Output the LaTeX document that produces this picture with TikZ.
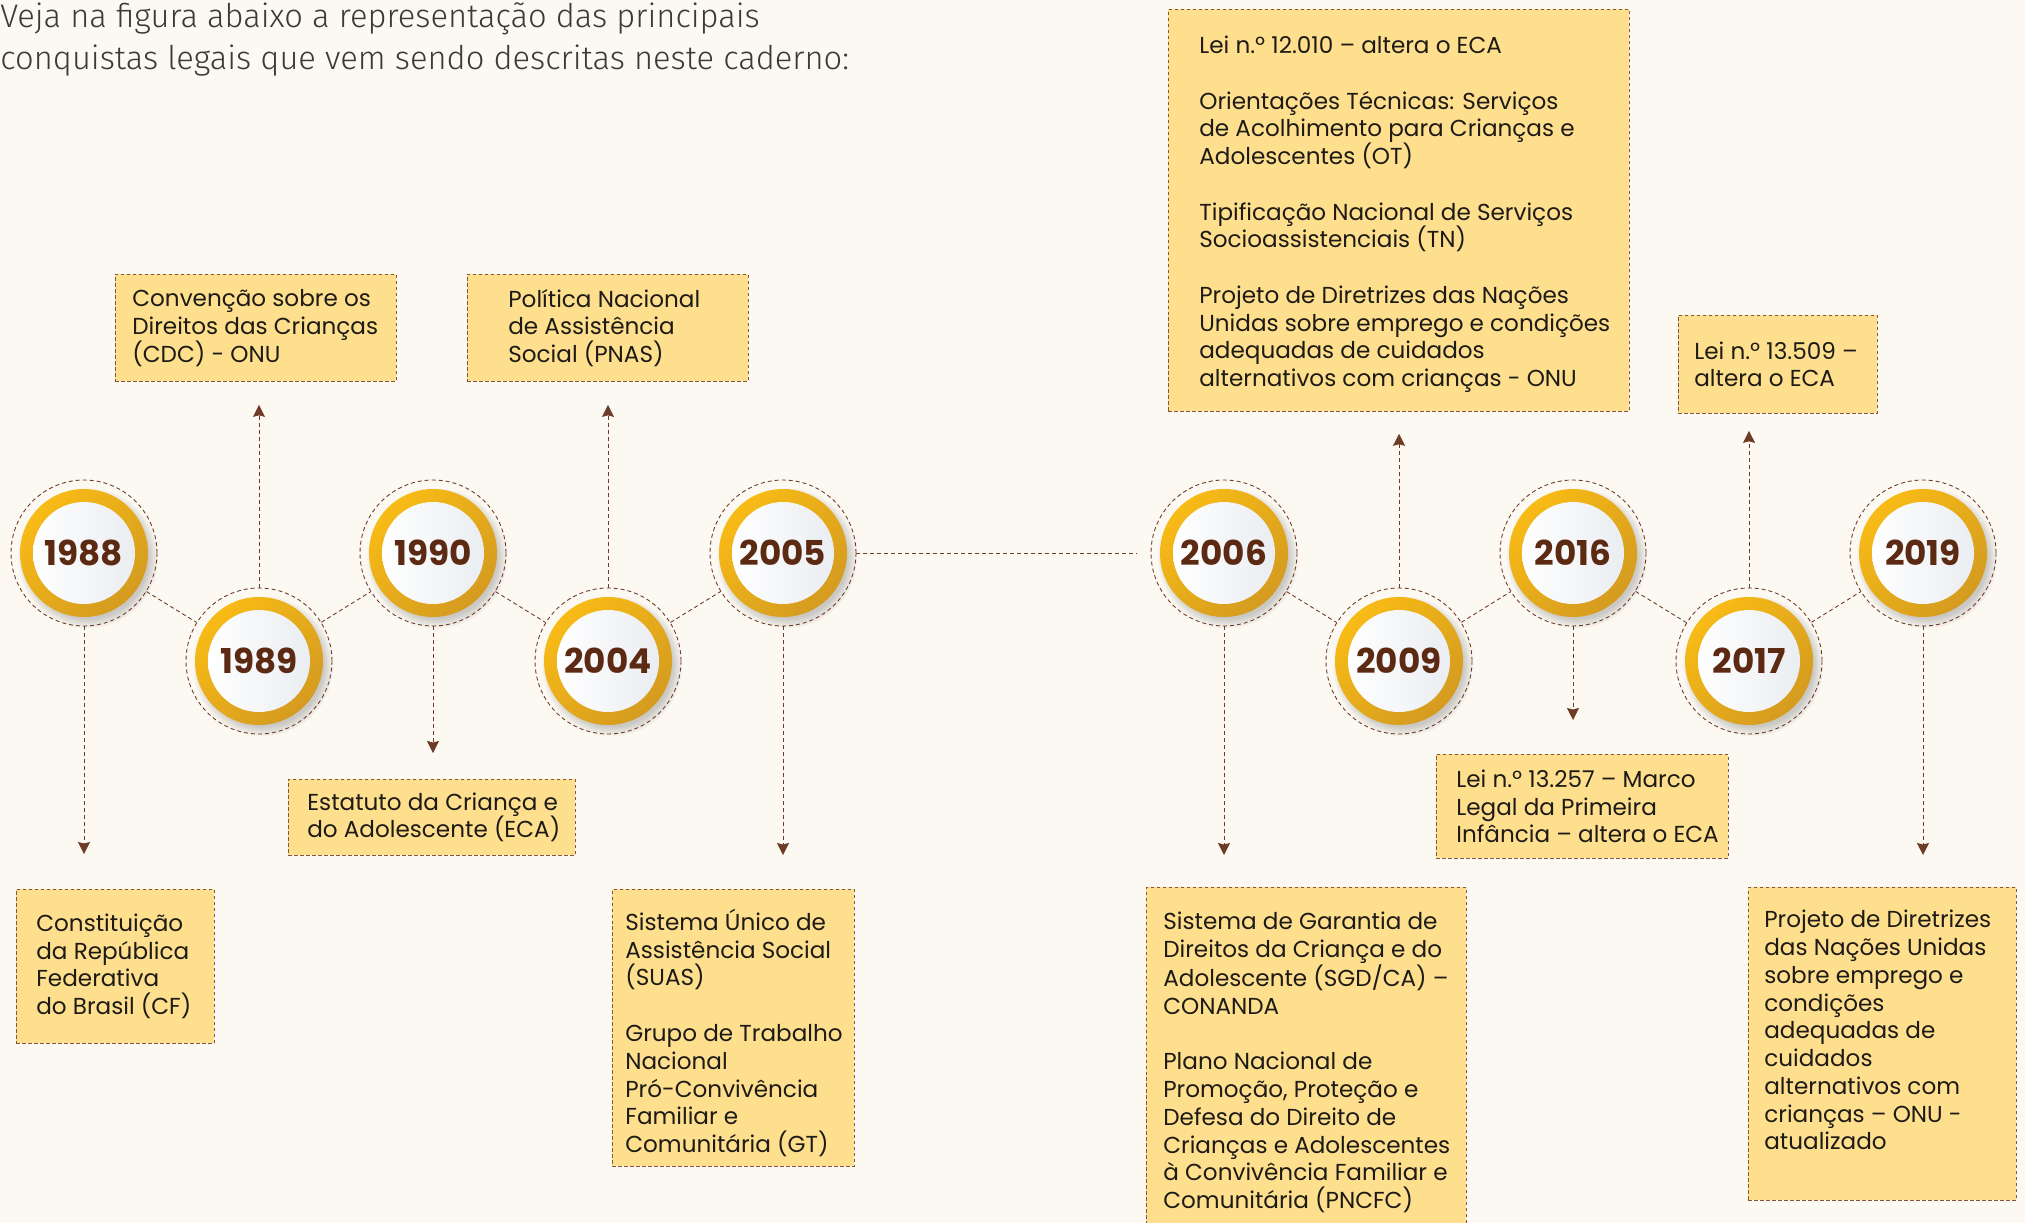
\documentclass[tikz,border=0pt]{standalone}
\usepackage{fontspec}
\setmainfont{Poppins}
\newfontfamily\headfont{Fira Sans Light}
\usetikzlibrary{arrows.meta}
\usetikzlibrary{shadows}

\definecolor{bgcream}{HTML}{FCF9F2}
\definecolor{notefill}{HTML}{FDDF8E}
\definecolor{notedraw}{HTML}{85563F}
\definecolor{linebrown}{HTML}{6E3B27}
\definecolor{yearbrown}{HTML}{5C2912}
\definecolor{ringlight}{HTML}{F8BB16}
\definecolor{ringdark}{HTML}{D49B20}
\definecolor{coredark}{HTML}{EAEDF1}
\definecolor{headgray}{HTML}{3A3A3A}
\definecolor{inktext}{HTML}{1E1A16}

\newcommand{\notefont}{\fontsize{13.15}{15.8}\selectfont}
\newcommand{\yearfont}{\bfseries\fontsize{19.5}{21}\selectfont}

% yellow ring, white core and the dashed outline that carries the name
\newcommand{\yearball}[4]{%
  \shade[ring] (#2,#3) circle (64);
  \shade[core] (#2,#3) circle (51);
  \node[yearring] (#1) at (#2,#3) {#4};
}

\begin{document}
\begin{tikzpicture}[x=0.02cm, y=-0.02cm,
    ring/.style={top color=ringlight, bottom color=ringdark, shading angle=45,
      circular drop shadow={shadow xshift=0.07cm, shadow yshift=-0.09cm, opacity=0.4}},
    core/.style={left color=white, right color=coredark},
    yearring/.style={circle, minimum size=2.92cm, inner sep=0, draw=linebrown, line width=0.5pt,
      dash pattern=on 0.08cm off 0.06cm, font=\yearfont, text=yearbrown},
    link/.style={draw=linebrown, line width=0.5pt, dash pattern=on 0.08cm off 0.06cm},
    arr/.style={link, -{Stealth[length=0.24cm, width=0.24cm, inset=0.03cm]}},
    note/.style={draw=notedraw, fill=notefill, line width=0.5pt, dash pattern=on 0.07cm off 0.05cm,
      anchor=north west, inner sep=0},
    notetext/.style={anchor=west, align=left, inner sep=0, font=\notefont, text=inktext}]

\useasboundingbox (0,0) rectangle (2025,1223);
\fill[bgcream] (0,0) rectangle (2025,1223);

\node[anchor=north west, inner sep=0, align=left, text=headgray,
  font={\headfont\fontsize{18.6}{24.2}\selectfont}] (intro) at (0,2)
  {Veja na figura abaixo a representação das principais\\conquistas legais que vem sendo descritas neste caderno:};

% years
\yearball{y1988}{84}{553}{1988}
\yearball{y1989}{259}{661}{1989}
\yearball{y1990}{433}{553}{1990}
\yearball{y2004}{608}{661}{2004}
\yearball{y2005}{783}{553}{2005}
\yearball{y2006}{1224}{553}{2006}
\yearball{y2009}{1399}{661}{2009}
\yearball{y2016}{1573}{553}{2016}
\yearball{y2017}{1749}{661}{2017}
\yearball{y2019}{1923}{553}{2019}

% notes
\node[note, minimum width=3.96cm, minimum height=3.08cm] (cf) at (16,889) {};
\node[notetext] (cftxt) at ([xshift=0.4cm]cf.west)
  {Constituição\\da República\\Federativa\\do Brasil (CF)};

\node[note, minimum width=5.62cm, minimum height=2.14cm] (cdc) at (115,274) {};
\node[notetext] (cdctxt) at ([xshift=0.34cm]cdc.west)
  {Convenção sobre os\\Direitos das Crianças\\(CDC) - ONU};

\node[note, minimum width=5.74cm, minimum height=1.52cm] (eca) at (288,779) {};
\node[notetext] (ecatxt) at ([xshift=0.38cm]eca.west)
  {Estatuto da Criança e\\do Adolescente (ECA)};

\node[note, minimum width=5.62cm, minimum height=2.14cm] (pnas) at (467,274) {};
\node[notetext] (pnastxt) at ([xshift=0.82cm]pnas.west)
  {Política Nacional\\de Assistência\\Social (PNAS)};

\node[note, minimum width=4.84cm, minimum height=5.54cm] (suas) at (612,889) {};
\node[notetext] (suastxt) at ([xshift=0.26cm, yshift=-0.1cm]suas.west)
  {Sistema Único de\\Assistência Social\\(SUAS)\\[15.8pt]Grupo de Trabalho\\Nacional\\Pró-Convivência\\Familiar e\\Comunitária (GT)};

\node[note, minimum width=6.4cm, minimum height=7.16cm] (sgd) at (1146,887) {};
\node[notetext] (sgdtxt) at ([xshift=0.34cm, yshift=0.08cm]sgd.west)
  {Sistema de Garantia de\\Direitos da Criança e do\\Adolescente (SGD/CA) –\\CONANDA\\[15.8pt]Plano Nacional de\\Promoção, Proteção e\\Defesa do Direito de\\Crianças e Adolescentes\\à Convivência Familiar e\\Comunitária (PNCFC)};

\node[note, minimum width=9.22cm, minimum height=8.04cm] (ot) at (1168,9) {};
\node[notetext] (ottxt) at ([xshift=0.62cm, yshift=-0.08cm]ot.west)
  {Lei n.º 12.010 – altera o ECA\\[15.8pt]Orientações Técnicas: Serviços\\de Acolhimento para Crianças e\\Adolescentes (OT)\\[15.8pt]Tipificação Nacional de Serviços\\Socioassistenciais (TN)\\[15.8pt]Projeto de Diretrizes das Nações\\Unidas sobre emprego e condições\\adequadas de cuidados\\alternativos com crianças - ONU};

\node[note, minimum width=5.84cm, minimum height=2.08cm] (marco) at (1436,754) {};
\node[notetext] (marcotxt) at ([xshift=0.4cm]marco.west)
  {Lei n.º 13.257 – Marco\\Legal da Primeira\\Infância – altera o ECA};

\node[note, minimum width=3.98cm, minimum height=1.96cm] (lei13509) at (1678,315) {};
\node[notetext] (lei13509txt) at ([xshift=0.32cm]lei13509.west)
  {Lei n.º 13.509 –\\altera o ECA};

\node[note, minimum width=5.36cm, minimum height=6.26cm] (onu) at (1748,887) {};
\node[notetext] (onutxt) at ([xshift=0.32cm]onu.west)
  {Projeto de Diretrizes\\das Nações Unidas\\sobre emprego e\\condições\\adequadas de\\cuidados\\alternativos com\\crianças – ONU -\\atualizado\\ \mbox{}};

% timeline
\foreach \a/\b in {y1988/y1989, y1989/y1990, y1990/y2004, y2004/y2005,
                   y2006/y2009, y2009/y2016, y2016/y2017, y2017/y2019}
  \draw[link] (\a) -- (\b);
\draw[link, shorten >=0.27cm] (y2005) -- (y2006);

% arrows to the notes
\draw[arr, shorten >=0.7cm] (y1988) -- (y1988 |- cf.north);
\draw[arr, shorten >=0.46cm] (y1989) -- (y1989 |- cdc.south);
\draw[arr, shorten >=0.52cm] (y1990) -- (y1990 |- eca.north);
\draw[arr, shorten >=0.46cm] (y2004) -- (y2004 |- pnas.south);
\draw[arr, shorten >=0.68cm] (y2005) -- (y2005 |- suas.north);
\draw[arr, shorten >=0.64cm] (y2006) -- (y2006 |- sgd.north);
\draw[arr, shorten >=0.44cm] (y2009) -- (y2009 |- ot.south);
\draw[arr, shorten >=0.68cm] (y2016) -- (y2016 |- marco.north);
\draw[arr, shorten >=0.34cm] (y2017) -- (y2017 |- lei13509.south);
\draw[arr, shorten >=0.64cm] (y2019) -- (y2019 |- onu.north);

\end{tikzpicture}
\end{document}
